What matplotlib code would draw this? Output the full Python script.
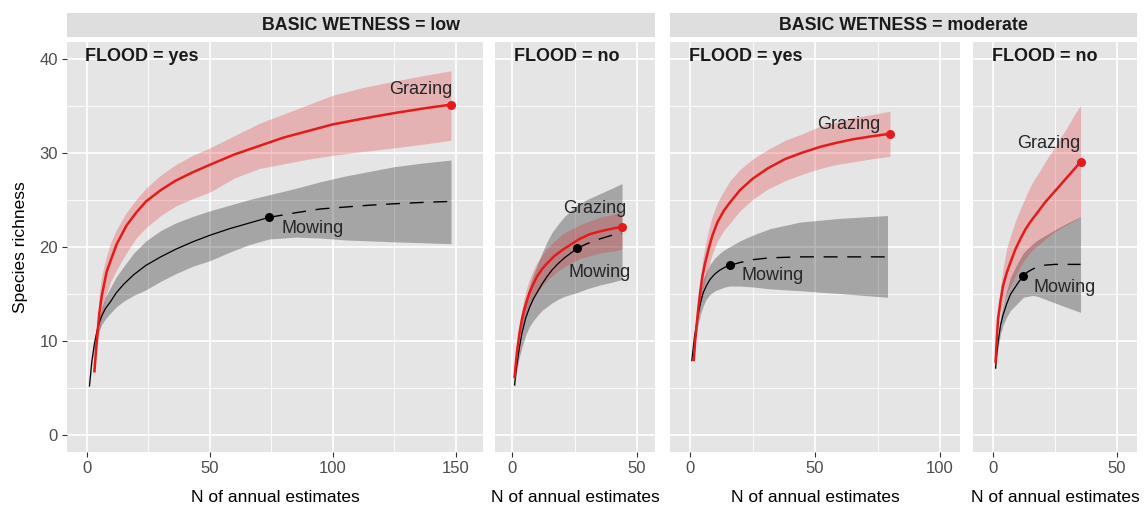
import matplotlib
matplotlib.use("Agg")
import matplotlib.pyplot as plt
from matplotlib.patches import Rectangle

plt.rcParams["font.family"] = ["Liberation Sans", "DejaVu Sans"]

# ---- data ------------------------------------------------------------------
PANEL_TITLES = ["FLOOD = yes", "FLOOD = no", "FLOOD = yes", "FLOOD = no"]
STRIP_TITLES = ["BASIC WETNESS = low", "BASIC WETNESS = moderate"]
X_TICKS = [[0, 50, 100, 150], [0, 50], [0, 50, 100], [0, 50]]
Y_TICKS = [0, 10, 20, 30, 40]

# panel 1 (low / flood yes)
P1_GRAZ_X = [3, 4, 5, 6, 7, 8, 9.5, 12, 16, 20, 24, 30, 36, 43, 50, 60, 70, 80,
             90, 100, 112, 125, 137, 148]
P1_GRAZ_Y = [6.6, 10.0, 12.8, 14.7, 16.0, 17.3, 18.4, 20.2, 22.2, 23.6, 24.8, 26.0,
             27.0, 27.9, 28.7, 29.8, 30.7, 31.6, 32.3, 33.0, 33.6, 34.2, 34.7, 35.1]
P1_GRAZ_LO = [6.1, 8.9, 10.8, 12.6, 13.9, 15.0, 16.2, 17.5, 19.3, 20.9, 22.0, 23.3,
              24.3, 25.1, 25.8, 27.3, 28.3, 28.8, 29.3, 29.7, 30.1, 30.5, 30.9, 31.3]
P1_GRAZ_HI = [7.1, 11.1, 15.0, 16.8, 18.0, 19.0, 20.3, 21.8, 23.6, 25.0, 26.2, 27.6,
              28.7, 29.7, 30.5, 31.8, 33.1, 34.1, 35.1, 36.1, 36.9, 37.6, 38.2, 38.7]
P1_GRAZ_OBS = (148, 35.1)
P1_MOW_X = [1, 2, 3, 4, 5, 6, 7.5, 9.5, 12, 15, 19, 24, 30, 36, 43, 50, 58, 66, 74,
            85, 95, 105, 115, 125, 137, 148]
P1_MOW_Y = [5.1, 7.8, 9.6, 10.9, 11.9, 12.6, 13.4, 14.1, 15.1, 16.0, 17.0, 18.0,
            18.9, 19.7, 20.5, 21.2, 21.9, 22.5, 23.1, 23.6, 24.0, 24.2, 24.4, 24.55,
            24.7, 24.8]
P1_MOW_LO = [5.0, 7.5, 9.1, 10.3, 11.1, 11.7, 12.3, 12.9, 13.6, 14.2, 14.8, 15.4,
             16.3, 17.1, 17.9, 18.5, 19.4, 20.2, 20.8, 21.0, 20.9, 20.7, 20.6, 20.5,
             20.4, 20.3]
P1_MOW_HI = [5.2, 8.1, 10.1, 11.5, 12.5, 13.5, 14.6, 15.6, 16.8, 17.9, 19.3, 20.6,
             21.7, 22.5, 23.2, 23.8, 24.4, 25.0, 25.5, 26.2, 26.9, 27.5, 28.0, 28.5,
             28.9, 29.2]
P1_MOW_OBS = (74, 23.1)

# panel 2 (low / flood no)
P2_GRAZ_X = [1, 1.5, 2, 3, 4, 5, 6, 7, 8.5, 10, 12, 14, 17, 20, 24, 27, 31, 35, 40, 44]
P2_GRAZ_Y = [6.0, 7.5, 8.8, 10.8, 12.3, 13.4, 14.3, 15.1, 16.0, 16.8, 17.6, 18.2,
             19.0, 19.6, 20.3, 20.8, 21.3, 21.6, 21.9, 22.1]
P2_GRAZ_LO = [5.8, 7.1, 8.2, 9.9, 11.1, 12.0, 12.9, 13.6, 14.4, 15.1, 15.8, 16.4,
              17.1, 17.7, 18.3, 18.7, 19.0, 19.3, 19.5, 19.7]
P2_GRAZ_HI = [6.2, 7.9, 9.4, 11.7, 13.4, 14.7, 15.7, 16.5, 17.5, 18.3, 19.1, 19.8,
              20.6, 21.3, 21.9, 22.3, 22.7, 23.1, 23.4, 23.7]
P2_GRAZ_OBS = (44, 22.1)
P2_MOW_X = [1, 1.5, 2, 3, 4, 5.5, 7, 8.5, 10, 12, 14, 16, 18.5, 21, 23.5, 26, 30,
            35, 40, 44]
P2_MOW_Y = [5.2, 6.5, 7.5, 9.3, 10.8, 12.4, 13.5, 14.4, 15.1, 16.0, 16.8, 17.5,
            18.2, 18.8, 19.3, 19.8, 20.3, 20.8, 21.2, 21.4]
P2_MOW_LO = [5.0, 6.0, 6.9, 8.3, 9.3, 10.6, 11.5, 12.1, 12.6, 13.2, 13.6, 14.0,
             14.4, 14.7, 14.9, 15.1, 15.5, 15.9, 16.2, 16.5]
P2_MOW_HI = [5.4, 7.0, 8.1, 10.3, 12.3, 14.3, 15.8, 17.0, 18.0, 19.3, 20.5, 21.5,
             22.4, 23.2, 23.8, 24.4, 25.0, 25.6, 26.2, 26.7]
P2_MOW_OBS = (26, 19.8)

# panel 3 (moderate / flood yes)
P3_GRAZ_X = [1.5, 2, 3, 4, 5, 6, 7.5, 9, 11, 13.5, 16, 20, 25, 31, 38, 45, 52, 58,
             65, 72, 80]
P3_GRAZ_Y = [7.8, 9.8, 12.6, 15.0, 16.9, 18.2, 19.8, 21.2, 22.6, 23.8, 24.7, 26.0,
             27.2, 28.3, 29.3, 30.0, 30.6, 31.0, 31.4, 31.7, 32.0]
P3_GRAZ_LO = [7.6, 9.3, 11.8, 13.8, 15.2, 16.4, 17.9, 19.3, 20.6, 21.7, 22.5, 23.8,
              25.0, 26.1, 27.0, 27.7, 28.3, 28.7, 29.0, 29.3, 29.6]
P3_GRAZ_HI = [8.0, 10.3, 13.5, 16.2, 18.5, 20.0, 21.8, 23.3, 24.7, 25.9, 27.0, 28.2,
              29.3, 30.3, 31.3, 32.0, 32.8, 33.2, 33.7, 34.0, 34.4]
P3_GRAZ_OBS = (80, 32.0)
P3_MOW_X = [0.7, 1.2, 1.8, 2.7, 3.5, 4.3, 5.3, 6.5, 8, 10, 12, 14, 16, 20, 25, 32,
            44, 60, 79]
P3_MOW_Y = [7.8, 9.0, 10.4, 11.9, 13.1, 14.1, 15.1, 15.8, 16.5, 17.1, 17.5, 17.8,
            18.0, 18.3, 18.6, 18.8, 18.9, 18.9, 18.9]
P3_MOW_LO = [7.7, 8.8, 10.0, 11.0, 12.0, 12.9, 13.7, 14.4, 14.9, 15.3, 15.5, 15.7,
             15.8, 15.8, 15.7, 15.5, 15.3, 15.0, 14.6]
P3_MOW_HI = [7.9, 9.2, 10.8, 12.8, 14.2, 15.3, 16.5, 17.3, 18.1, 18.8, 19.3, 19.7,
             20.0, 20.6, 21.2, 21.9, 22.6, 23.0, 23.3]
P3_MOW_OBS = (16, 18.0)

# panel 4 (moderate / flood no)
P4_GRAZ_X = [1, 1.5, 2, 3, 4, 5.5, 7, 9, 11, 13, 15, 17, 19, 21, 23, 25, 27, 29,
             31, 33, 35.3]
P4_GRAZ_Y = [7.6, 10.2, 12.3, 14.2, 15.8, 17.2, 18.3, 19.7, 20.8, 21.8, 22.6, 23.3,
             24.0, 24.7, 25.3, 25.9, 26.5, 27.1, 27.7, 28.3, 29.0]
P4_GRAZ_LO = [7.4, 9.6, 11.5, 12.9, 14.0, 15.0, 15.8, 16.9, 17.9, 18.7, 19.4, 19.9,
              20.3, 20.8, 21.2, 21.6, 21.9, 22.2, 22.5, 22.8, 23.2]
P4_GRAZ_HI = [7.8, 10.8, 13.2, 15.6, 17.6, 19.8, 21.1, 22.7, 24.0, 25.2, 26.4, 27.3,
              28.1, 29.0, 29.8, 30.6, 31.5, 32.3, 33.2, 34.1, 35.0]
P4_GRAZ_OBS = (35.3, 29.0)
P4_MOW_X = [1, 1.5, 2, 3, 4, 5.5, 7, 8.5, 10, 12.2, 14, 16, 18, 20, 25, 30, 35.3]
P4_MOW_Y = [7.0, 8.6, 9.8, 11.6, 12.7, 13.9, 14.9, 15.5, 16.1, 16.9, 17.3, 17.6,
            17.85, 18.0, 18.1, 18.1, 18.1]
P4_MOW_LO = [6.9, 8.2, 9.2, 10.7, 11.6, 12.5, 13.2, 13.6, 14.0, 14.6, 14.7, 14.8,
             14.7, 14.5, 14.0, 13.5, 13.0]
P4_MOW_HI = [7.1, 9.0, 10.4, 12.5, 13.8, 15.3, 16.7, 17.5, 18.3, 19.3, 19.8, 20.3,
             20.7, 21.0, 21.8, 22.5, 23.2]
P4_MOW_OBS = (12.2, 16.9)

# text label anchor positions (data units): grazing, mowing
LABEL_POS = [
    [(148.4, 36.7, "right"), (79, 21.9, "left")],
    [(33.2, 24.0, "center"), (35.2, 17.2, "center")],
    [(63.6, 33.0, "center"), (20.7, 16.9, "left")],
    [(22.4, 31.0, "center"), (16.3, 15.6, "left")],
]

# ---- layout (pixels of a 1147x508 canvas) ----------------------------------
W, H = 1147, 508
PANEL_PX = [(67, 483), (495, 655), (670, 960), (973, 1137)]
PANEL_TOP, PANEL_BOTTOM = 42, 452
X_LIMS = [(-8.1, 161.0), (-6.8, 57.2), (-8.0, 108.0), (-8.1, 58.1)]
Y_LIM = (-1.86, 41.76)
STRIP_PX = [(67, 655), (670, 1137)]
STRIP_Y = (13, 37)

RED = "#E41A1C"
PANEL_BG = "#E5E5E5"
STRIP_BG = "#DEDEDE"


def draw_curve(ax, xs, ys, lo, hi, obs, color, band_alpha, lw):
    ax.fill_between(xs, lo, hi, color=color, alpha=band_alpha, lw=0, zorder=2)
    solid = [i for i, x in enumerate(xs) if x <= obs[0]]
    dashed = [i for i, x in enumerate(xs) if x >= obs[0]]
    ax.plot([xs[i] for i in solid], [ys[i] for i in solid],
            color=color, lw=lw, solid_capstyle="butt", solid_joinstyle="round",
            zorder=3)
    if len(dashed) > 1:
        ax.plot([xs[i] for i in dashed], [ys[i] for i in dashed],
                color=color, lw=1.0, linestyle=(0, (10, 7)), zorder=3)
    ax.plot(*obs, marker="o", ms=6.5, color=color, mec="none", zorder=4)


fig = plt.figure(figsize=(W / 100, H / 100), dpi=100)
fig.patch.set_facecolor("white")

grazing = [
    (P1_GRAZ_X, P1_GRAZ_Y, P1_GRAZ_LO, P1_GRAZ_HI, P1_GRAZ_OBS),
    (P2_GRAZ_X, P2_GRAZ_Y, P2_GRAZ_LO, P2_GRAZ_HI, P2_GRAZ_OBS),
    (P3_GRAZ_X, P3_GRAZ_Y, P3_GRAZ_LO, P3_GRAZ_HI, P3_GRAZ_OBS),
    (P4_GRAZ_X, P4_GRAZ_Y, P4_GRAZ_LO, P4_GRAZ_HI, P4_GRAZ_OBS),
]
mowing = [
    (P1_MOW_X, P1_MOW_Y, P1_MOW_LO, P1_MOW_HI, P1_MOW_OBS),
    (P2_MOW_X, P2_MOW_Y, P2_MOW_LO, P2_MOW_HI, P2_MOW_OBS),
    (P3_MOW_X, P3_MOW_Y, P3_MOW_LO, P3_MOW_HI, P3_MOW_OBS),
    (P4_MOW_X, P4_MOW_Y, P4_MOW_LO, P4_MOW_HI, P4_MOW_OBS),
]

for i, (x0, x1) in enumerate(PANEL_PX):
    ax = fig.add_axes([x0 / W, (H - PANEL_BOTTOM) / H, (x1 - x0) / W,
                       (PANEL_BOTTOM - PANEL_TOP) / H])
    ax.set_facecolor(PANEL_BG)
    ax.set_xlim(X_LIMS[i])
    ax.set_ylim(Y_LIM)

    # ggplot-like grid
    ticks = X_TICKS[i]
    ax.set_xticks(ticks)
    ax.set_xticks([t + 25 for t in ticks[:-1]], minor=True)
    ax.set_yticks(Y_TICKS)
    ax.set_yticks([t + 5 for t in Y_TICKS[:-1]], minor=True)
    ax.grid(which="major", color="white", lw=1.2, zorder=0)
    ax.grid(which="minor", color="white", lw=0.6, zorder=0)
    ax.set_axisbelow(True)
    for s in ax.spines.values():
        s.set_visible(False)
    ax.tick_params(which="minor", length=0)
    ax.tick_params(which="major", length=3.5, width=0.8, color="#333333",
                   labelcolor="#4D4D4D", labelsize=12, pad=3)
    if i > 0:
        ax.tick_params(axis="y", left=False, labelleft=False)
    else:
        ax.set_ylabel("Species richness", fontsize=12.5, labelpad=8)

    ax.set_xlabel("N of annual estimates", fontsize=12.5, labelpad=10)

    draw_curve(ax, *mowing[i], color="black", band_alpha=0.28, lw=0.9)
    draw_curve(ax, *grazing[i], color=RED, band_alpha=0.25, lw=1.8)

    (gx, gy, gha), (mx, my, mha) = LABEL_POS[i]
    ax.text(gx, gy, "Grazing", ha=gha, va="center", fontsize=13, color="#262626")
    ax.text(mx, my, "Mowing", ha=mha, va="center", fontsize=13, color="#262626")
    ax.text(X_LIMS[i][0] + 7.5, 40.2, PANEL_TITLES[i], ha="left", va="center",
            fontsize=13, fontweight="bold", color="#1A1A1A")

# outer strips
for (x0, x1), title in zip(STRIP_PX, STRIP_TITLES):
    fig.patches.append(Rectangle((x0 / W, (H - STRIP_Y[1]) / H), (x1 - x0) / W,
                                 (STRIP_Y[1] - STRIP_Y[0]) / H,
                                 transform=fig.transFigure, facecolor=STRIP_BG,
                                 edgecolor="none"))
    fig.text((x0 + x1) / 2 / W, (H - sum(STRIP_Y) / 2) / H, title, ha="center",
             va="center", fontsize=12.8, fontweight="bold", color="#1A1A1A")

fig.savefig("out.png", dpi=100, facecolor="white")
